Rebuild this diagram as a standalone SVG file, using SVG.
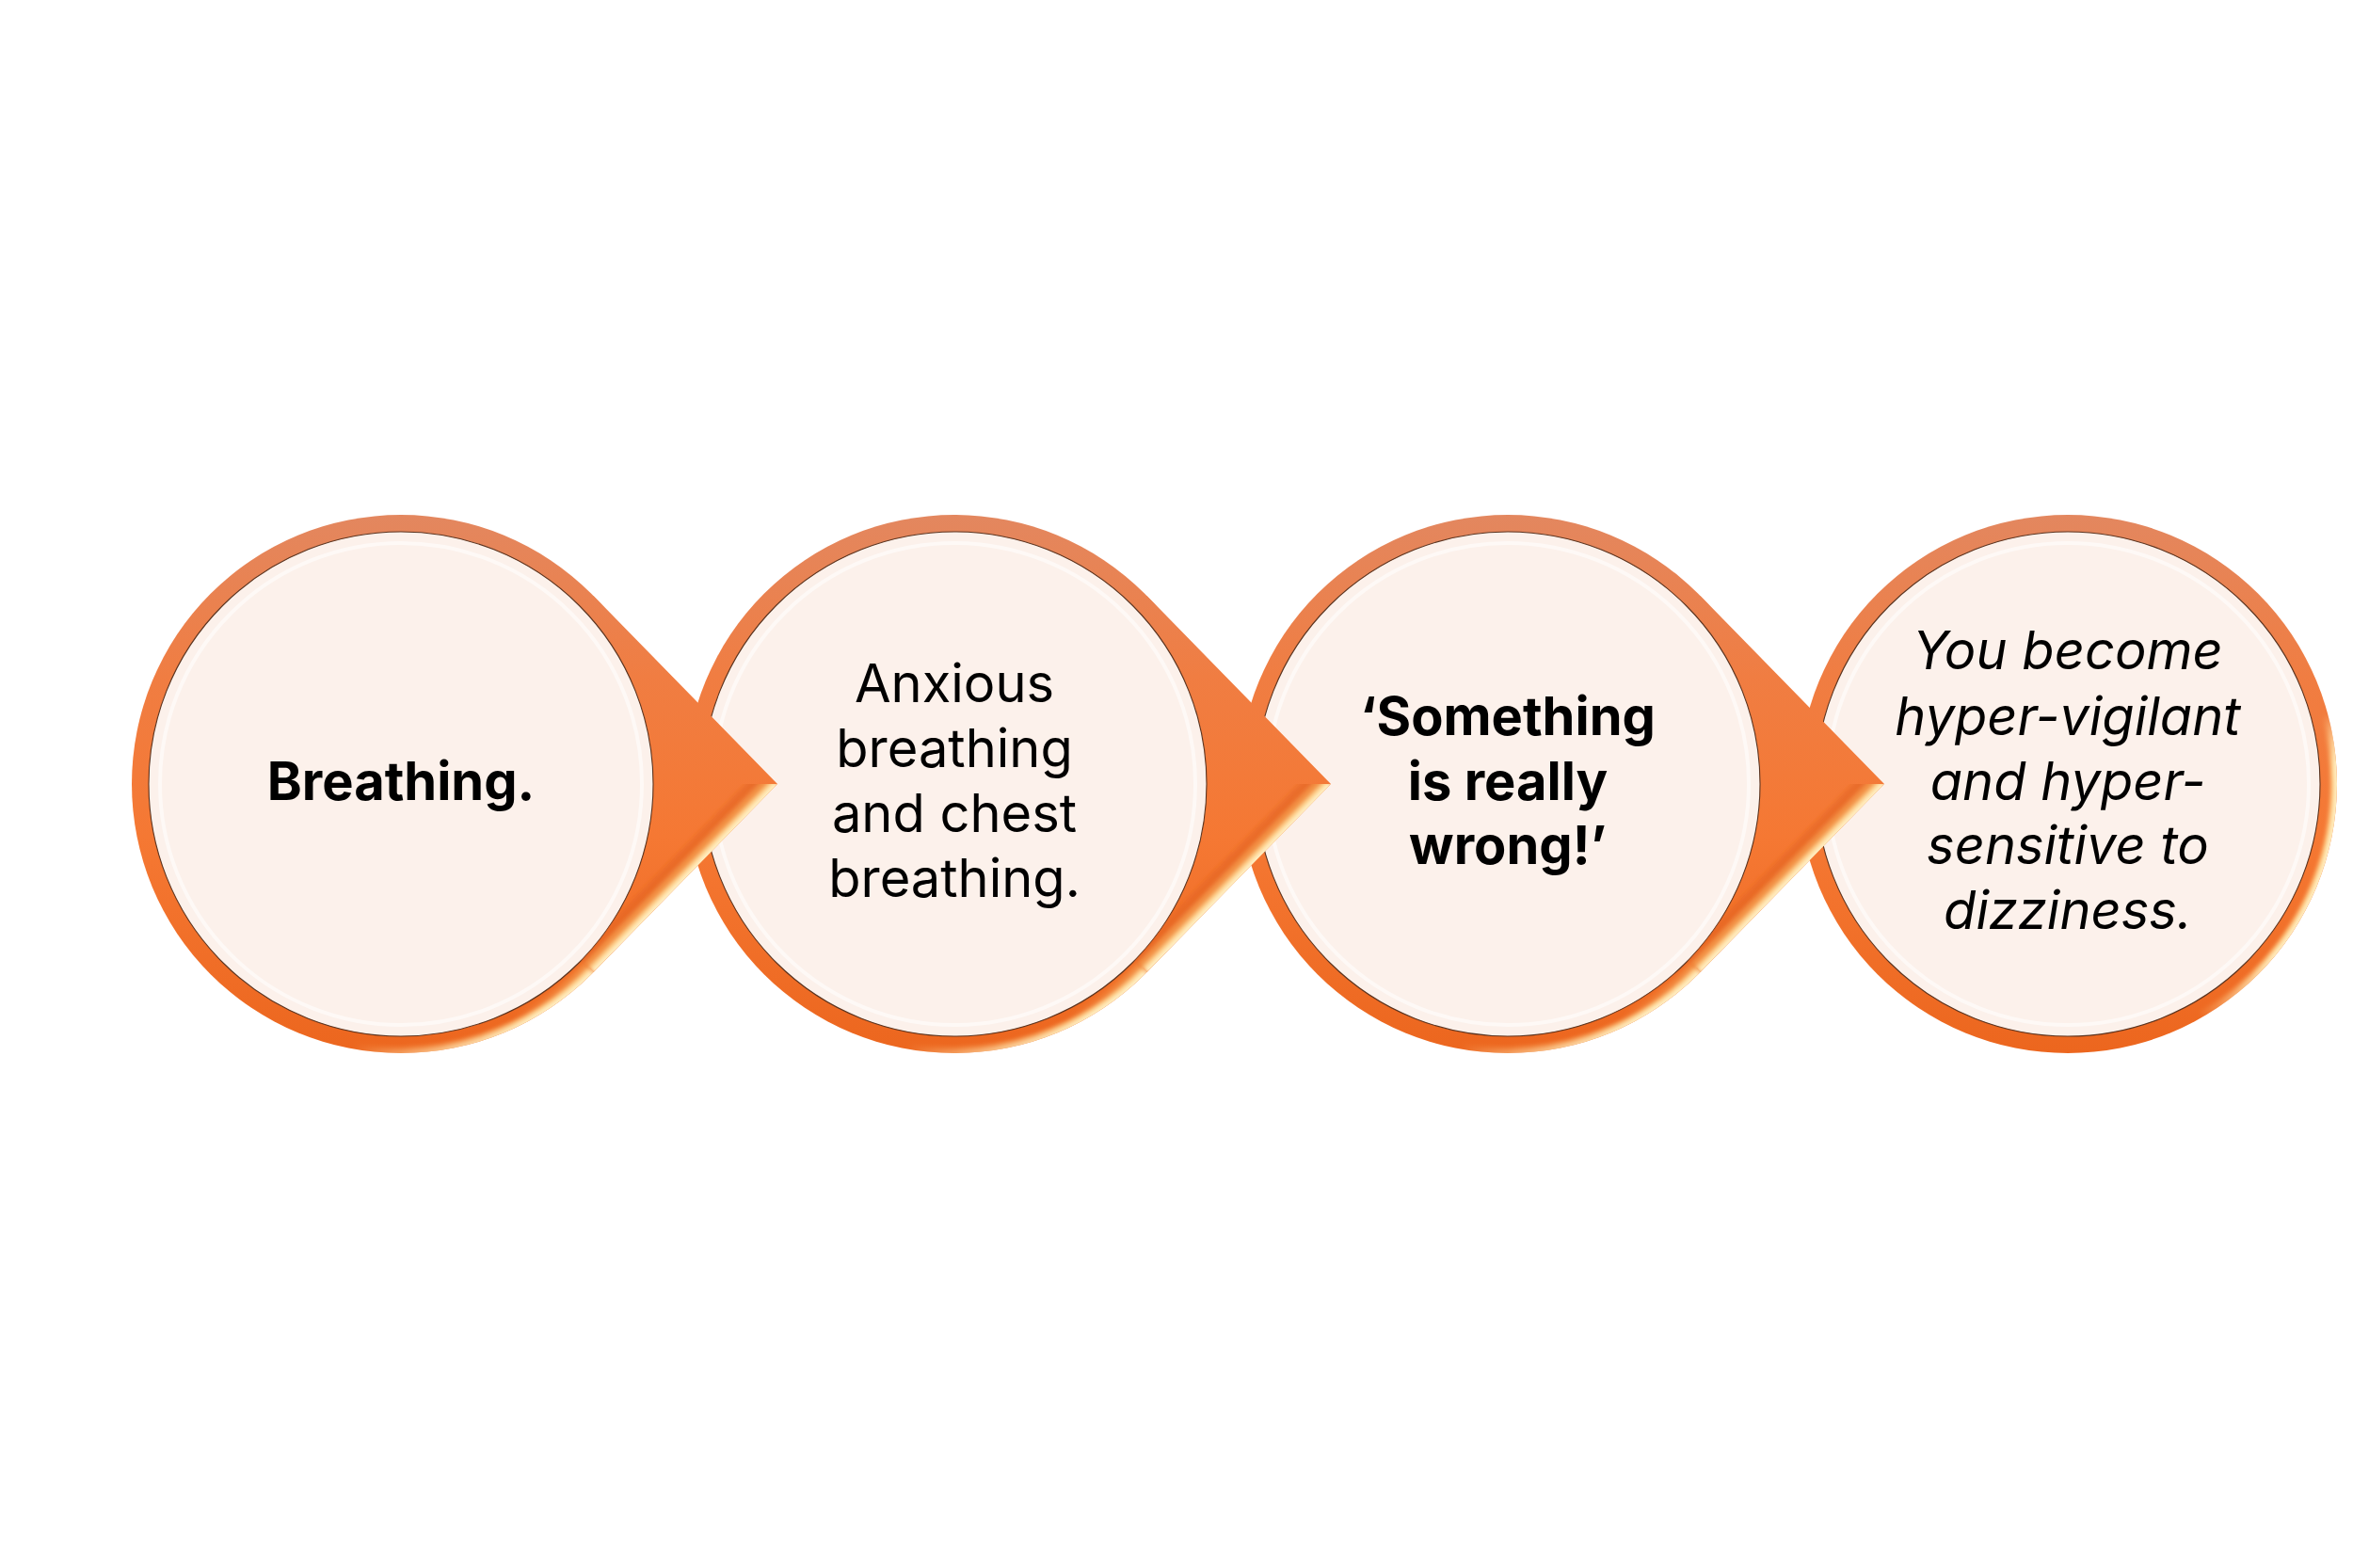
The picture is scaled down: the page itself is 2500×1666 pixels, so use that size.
<svg xmlns="http://www.w3.org/2000/svg" width="2500" height="1666" viewBox="0 0 2500 1666">
<defs>
<linearGradient id="ring" gradientUnits="userSpaceOnUse" x1="0" y1="-286" x2="0" y2="286">
<stop offset="0" stop-color="#E3875F"/>
<stop offset="0.3" stop-color="#F07D42"/>
<stop offset="0.6" stop-color="#F57833"/>
<stop offset="1" stop-color="#EC661E"/>
</linearGradient>
<linearGradient id="fA2" gradientUnits="userSpaceOnUse" x1="120" y1="0" x2="204" y2="0">
<stop offset="0" stop-color="#F39245" stop-opacity="0"/><stop offset="1" stop-color="#F39245" stop-opacity="1"/>
</linearGradient>
<linearGradient id="fA3" gradientUnits="userSpaceOnUse" x1="-50" y1="0" x2="150" y2="0">
<stop offset="0" stop-color="#FFD48C" stop-opacity="0"/><stop offset="1" stop-color="#FFD48C" stop-opacity="1"/>
</linearGradient>
<linearGradient id="fA4" gradientUnits="userSpaceOnUse" x1="-50" y1="0" x2="150" y2="0">
<stop offset="0" stop-color="#FFF1C8" stop-opacity="0"/><stop offset="1" stop-color="#FFF1C8" stop-opacity="1"/>
</linearGradient>
<linearGradient id="fB3" gradientUnits="userSpaceOnUse" x1="0" y1="-74" x2="0" y2="248">
<stop offset="0" stop-color="#FFD48C" stop-opacity="0"/><stop offset="0.17" stop-color="#FFD48C" stop-opacity="1"/><stop offset="0.79" stop-color="#FFD48C" stop-opacity="1"/><stop offset="1" stop-color="#FFD48C" stop-opacity="0"/>
</linearGradient>
<linearGradient id="fB4" gradientUnits="userSpaceOnUse" x1="0" y1="-74" x2="0" y2="248">
<stop offset="0" stop-color="#FFF1C8" stop-opacity="0"/><stop offset="0.17" stop-color="#FFF1C8" stop-opacity="1"/><stop offset="0.79" stop-color="#FFF1C8" stop-opacity="1"/><stop offset="1" stop-color="#FFF1C8" stop-opacity="0"/>
</linearGradient>
<filter id="soft" x="-20%" y="-20%" width="140%" height="140%"><feGaussianBlur stdDeviation="2"/></filter>
<clipPath id="cc"><circle r="286"/></clipPath>
<clipPath id="tb"><path clip-rule="evenodd" d="M400,0 L-286,0 A286,286 0 0 0 204.4,200 Z M268,0 A268,268 0 1 0 -268,0 A268,268 0 1 0 268,0 Z"/></clipPath>
<g id="arcA">
<path fill="none" stroke="url(#fA2)" stroke-width="28" d="M204.4,200 A286,286 0 0 1 -49.7,281.7"/>
<path fill="none" stroke="url(#fA3)" stroke-width="14" d="M204.4,200 A286,286 0 0 1 -49.7,281.7"/>
<path fill="none" stroke="url(#fA4)" stroke-width="6" d="M204.4,200 A286,286 0 0 1 -49.7,281.7"/>
</g>
<g id="arcB">
<path fill="none" stroke="url(#fB3)" stroke-width="13" d="M276.3,-74 A286,286 0 0 1 143,247.7"/>
<path fill="none" stroke="url(#fB4)" stroke-width="5" d="M276.3,-74 A286,286 0 0 1 143,247.7"/>
</g>
<g id="edge">
<path class="s1" d="M400,0 L204.4,200"/>
<path class="s2" d="M400,0 L204.4,200"/>
<path class="s3" d="M400,0 L204.4,200"/>
<path class="s4" d="M400,0 L204.4,200"/>
</g>
</defs>
<style>
.ring{fill:url(#ring)}
.face{fill:#FCF1EB;stroke:#5A3420;stroke-width:1.1}
.hl{fill:none;stroke:#FFFFFF;stroke-width:4;opacity:.55}
.tail{fill:url(#ring)}
.s1{fill:none;stroke:#E2621F;stroke-width:48;opacity:.55}
.s2{fill:none;stroke:#F39245;stroke-width:28}
.s3{fill:none;stroke:#FFD48C;stroke-width:14}
.s4{fill:none;stroke:#FFF1C8;stroke-width:6}
text{font-family:Inter,"Noto Sans","Liberation Sans",sans-serif;font-size:56px;fill:#000000;text-anchor:middle}
.b{font-weight:700}
.i{font-style:italic}
</style>
<rect width="2500" height="1666" fill="#FFFFFF"/>
<g id="node4" transform="translate(2197,833)">
<circle class="ring" r="286"/>
<g clip-path="url(#cc)"><use href="#arcB" filter="url(#soft)"/></g>
<circle class="face" r="268"/>
<circle class="hl" r="256"/>
<text class="i"><tspan x="0" y="-122">You become</tspan><tspan x="0" y="-52">hyper-vigilant</tspan><tspan x="0" y="17">and hyper-</tspan><tspan x="0" y="85">sensitive to</tspan><tspan x="0" y="154">dizziness.</tspan></text>
</g>
<g id="node3" transform="translate(1602,833)">
<circle class="ring" r="286"/>
<g clip-path="url(#cc)"><use href="#arcA" filter="url(#soft)"/></g>
<circle class="face" r="268"/>
<circle class="hl" r="256"/>
<text class="b"><tspan x="0" y="-52">‘Something</tspan><tspan x="0" y="17">is really</tspan><tspan x="0" y="85">wrong!’</tspan></text>
</g>
<g id="node2" transform="translate(1014,833)">
<circle class="ring" r="286"/>
<g clip-path="url(#cc)"><use href="#arcA" filter="url(#soft)"/></g>
<circle class="face" r="268"/>
<circle class="hl" r="256"/>
<text><tspan x="0" y="-87">Anxious</tspan><tspan x="0" y="-18">breathing</tspan><tspan x="0" y="51">and chest</tspan><tspan x="0" y="120">breathing.</tspan></text>
</g>
<g id="node1" transform="translate(426,833)">
<circle class="ring" r="286"/>
<g clip-path="url(#cc)"><use href="#arcA" filter="url(#soft)"/></g>
<circle class="face" r="268"/>
<circle class="hl" r="256"/>
<text class="b" x="0" y="17">Breathing.</text>
</g>
<g id="connectors">
<g transform="translate(426,833)">
<path class="tail" d="M400,0 L204.5,-200 L200.2,-195.8 A280,280 0 0 1 200.2,195.8 L204.5,200 Z"/>
<g clip-path="url(#tb)"><use href="#edge" filter="url(#soft)"/></g>
</g>
<g transform="translate(1014,833)">
<path class="tail" d="M400,0 L204.5,-200 L200.2,-195.8 A280,280 0 0 1 200.2,195.8 L204.5,200 Z"/>
<g clip-path="url(#tb)"><use href="#edge" filter="url(#soft)"/></g>
</g>
<g transform="translate(1602,833)">
<path class="tail" d="M400,0 L204.5,-200 L200.2,-195.8 A280,280 0 0 1 200.2,195.8 L204.5,200 Z"/>
<g clip-path="url(#tb)"><use href="#edge" filter="url(#soft)"/></g>
</g>
</g>
</svg>
